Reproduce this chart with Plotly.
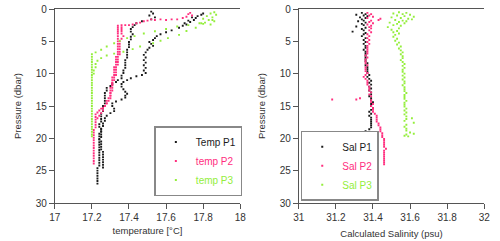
import plotly.graph_objects as go

# ---------------- data: (pressure dbar, value) ----------------
temp_p1_a = [(0.7,17.80),(0.9,17.79),(1.1,17.77),(1.4,17.76),(1.7,17.75),(2.0,17.73),(2.4,17.71),(2.9,17.67),
             (3.3,17.63),(3.6,17.60),(3.9,17.57),(4.2,17.55),(4.5,17.54),(4.8,17.53),(5.1,17.51),(5.4,17.52),
             (5.7,17.53),(6.0,17.51),(6.3,17.50),(6.7,17.49),(7.1,17.48),(7.5,17.49),(7.9,17.48),(8.3,17.49),
             (8.7,17.48),(9.1,17.49),(9.5,17.48),(9.9,17.49),(10.2,17.47),(10.4,17.44),(10.7,17.41),(11.0,17.39),
             (11.3,17.37),(11.6,17.36),(12.0,17.36),(12.4,17.37),(12.8,17.38),(13.1,17.39),(13.4,17.38),(13.7,17.38),
             (14.0,17.36),(14.3,17.33),(14.6,17.31),(15.0,17.31),(15.4,17.32),(15.8,17.32),(16.1,17.30),(16.5,17.28),
             (16.9,17.27),(17.3,17.27),(17.7,17.26),(18.1,17.26),(18.5,17.25),(18.9,17.25),(19.3,17.24),(19.7,17.24),
             (20.1,17.24),(20.5,17.25),(20.9,17.25),(21.3,17.25),(21.7,17.25),(22.1,17.26),(22.5,17.26),(22.9,17.26),
             (23.3,17.26),(23.7,17.26),(24.1,17.26),(24.5,17.26),(1.3,17.74),(1.8,17.72),(2.2,17.70),(2.6,17.69)]
temp_p1_b = [(0.4,17.52),(0.7,17.53),(1.0,17.51),(1.3,17.54),(1.6,17.52),(1.9,17.47),(2.2,17.44),(2.5,17.43),
             (2.8,17.42),(3.1,17.41),(3.5,17.41),(3.9,17.42),(4.3,17.41),(4.7,17.41),(5.1,17.40),(5.5,17.40),
             (5.9,17.40),(6.3,17.39),(6.7,17.39),(7.1,17.39),(7.5,17.39),(7.9,17.38),(8.3,17.38),(8.7,17.38),
             (9.1,17.38),(9.5,17.37),(9.9,17.37),(10.3,17.36),(10.7,17.36),(11.0,17.34),(11.3,17.33),(11.6,17.31),
             (11.9,17.30),(12.2,17.28),(12.6,17.28),(13.0,17.27),(13.4,17.27),(13.8,17.27),(14.2,17.27),(14.6,17.27),
             (15.0,17.26),(15.4,17.26),(15.8,17.26),(16.2,17.25),(16.6,17.25),(17.0,17.25),(17.4,17.25),(17.8,17.24),
             (18.2,17.24),(18.6,17.25),(19.0,17.25),(19.4,17.25),(19.8,17.25),(20.2,17.24),(20.6,17.24),(21.0,17.24),
             (21.4,17.24),(21.8,17.24),(22.2,17.24),(22.6,17.24),(23.0,17.24),(23.4,17.24),(23.8,17.24),(24.2,17.24),
             (24.6,17.23),(25.0,17.23),(25.4,17.23),(25.8,17.23),(26.2,17.23),(26.6,17.23),(27.0,17.23)]

temp_p2 = [(0.6,17.73),(0.8,17.72),(1.0,17.74),(1.2,17.71),(1.4,17.69),(1.6,17.66),(1.6,17.63),(1.7,17.60),
           (1.6,17.57),(1.7,17.54),(1.6,17.52),(1.8,17.50),(1.9,17.48),(2.1,17.46),(2.2,17.44),(2.4,17.42),
           (2.5,17.40),(2.5,17.38),(2.5,17.36),(2.6,17.34),(2.9,17.34),(3.2,17.34),(3.5,17.34),(3.8,17.34),
           (4.2,17.34),(4.6,17.34),(5.0,17.34),(5.4,17.34),(5.8,17.34),(6.2,17.34),(6.6,17.34),(7.0,17.34),
           (7.4,17.33),(7.8,17.33),(8.2,17.33),(8.6,17.33),(9.0,17.32),(9.4,17.32),(9.8,17.32),(10.2,17.32),
           (10.6,17.31),(11.0,17.31),(11.4,17.31),(11.8,17.31),(12.2,17.30),(12.6,17.30),(13.0,17.30),(13.4,17.30),
           (13.8,17.29),(14.2,17.28),(14.6,17.28),(15.0,17.27),(15.4,17.25),(15.7,17.24),(16.0,17.23),(16.3,17.22),
           (16.7,17.22),(17.1,17.22),(17.5,17.22),(17.9,17.22),(18.3,17.22),(18.7,17.21),(19.1,17.21),(19.5,17.21),
           (19.9,17.21),(20.3,17.21),(20.7,17.21),(21.1,17.21),(21.5,17.21),(21.9,17.21),(22.3,17.21),(22.7,17.21),
           (23.1,17.21),(23.5,17.21),(23.9,17.21),
           (2.8,17.36),(3.1,17.36),(3.4,17.36),(3.8,17.36),(4.2,17.37),(4.6,17.36),(5.0,17.35),(5.4,17.35),
           (5.8,17.35),(6.2,17.35),(6.6,17.35),(7.0,17.35),(7.4,17.34),(7.8,17.34),(8.2,17.34),(8.6,17.34),
           (9.0,17.33),(9.4,17.33),(9.8,17.33),(10.2,17.33),(10.6,17.32),(11.0,17.32),(11.4,17.31),(11.8,17.31),
           (12.2,17.31),(12.6,17.31),(13.0,17.30),(13.4,17.30),(13.8,17.30),(14.2,17.29),(14.6,17.28),(15.0,17.27),
           (15.3,17.26),(15.7,17.26),(16.1,17.25),(16.5,17.24),(16.9,17.23)]

temp_p3 = [(0.5,17.86),(0.7,17.84),(0.9,17.87),(1.1,17.82),(1.3,17.85),(1.5,17.80),(1.7,17.83),(1.9,17.86),
           (2.1,17.81),(2.2,17.79),(2.4,17.84),
           (2.2,17.78),(2.5,17.72),(2.7,17.66),(3.1,17.60),(3.45,17.54),(3.8,17.48),(4.2,17.43),(4.5,17.39),
           (4.9,17.35),(5.3,17.32),(5.8,17.28),(6.3,17.25),(6.7,17.22),(7.0,17.20),
           (1.7,17.85),(2.3,17.80),(2.9,17.76),(3.4,17.71),(4.0,17.67),(4.5,17.61),(4.9,17.57),(5.3,17.53),
           (5.8,17.46),(6.2,17.42),(6.6,17.37),(6.9,17.32),(7.2,17.28),(7.6,17.25),(8.0,17.23),(8.5,17.22),
           (9.0,17.22),(9.5,17.21),(10.0,17.21),
           (7.4,17.20),(7.8,17.20),(8.2,17.20),(8.6,17.20),(9.0,17.20),(9.4,17.20),(9.8,17.20),(10.2,17.20),
           (10.6,17.20),(11.0,17.20),(11.4,17.20),(11.8,17.20),(12.2,17.20),(12.6,17.20),(13.0,17.20),(13.4,17.20),
           (13.8,17.20),(14.2,17.20),(14.6,17.20),(15.0,17.20),(15.4,17.20),(15.8,17.20),(16.2,17.20),(16.6,17.20),
           (17.0,17.20),(17.4,17.20),(17.8,17.20),(18.2,17.20),(18.6,17.20),(19.0,17.20),(19.4,17.20),(19.7,17.20)]

sal_p1 = [(0.6,31.34),(0.8,31.36),(0.9,31.31),(1.0,31.35),(1.1,31.37),(1.3,31.33),(1.4,31.36),(1.6,31.34),
          (1.8,31.35),(1.9,31.32),(2.1,31.36),(2.3,31.34),(2.5,31.35),(2.7,31.31),(2.9,31.36),(3.1,31.34),
          (3.3,31.35),(3.5,31.29),(3.7,31.36),(3.9,31.35),(4.2,31.34),(4.5,31.36),(4.8,31.35),(5.1,31.36),
          (5.4,31.35),(5.7,31.36),(6.0,31.36),(6.3,31.35),(6.6,31.36),(6.9,31.36),(7.2,31.36),(7.5,31.36),
          (7.8,31.36),(8.1,31.36),(8.4,31.37),(8.7,31.36),(9.0,31.37),(9.3,31.37),(9.6,31.37),(9.9,31.37),
          (10.2,31.38),(10.5,31.37),(10.8,31.38),(11.1,31.39),(11.4,31.38),(11.7,31.39),(12.0,31.38),(12.3,31.39),
          (12.6,31.38),(12.9,31.39),(13.2,31.39),(13.5,31.38),(13.8,31.39),(14.1,31.39),(14.4,31.40),(14.7,31.39),
          (15.0,31.39),(15.3,31.40),(15.6,31.39),(15.9,31.38),(16.2,31.39),(16.5,31.38),(16.8,31.39),(17.1,31.39),
          (17.4,31.39),(17.7,31.39),(18.0,31.39),(18.3,31.39),(18.6,31.38),(18.9,31.36),(19.2,31.38),(19.5,31.39),
          (19.8,31.40),(20.1,31.39),(20.4,31.39),(20.7,31.40),(21.0,31.39),(21.3,31.40),(21.6,31.39),(21.9,31.40),
          (22.2,31.40),(22.5,31.40),(22.8,31.40),(23.1,31.40),(23.4,31.39),(23.7,31.40),(24.0,31.41),(24.3,31.40),
          (24.6,31.40),(24.9,31.40),(25.2,31.41),(25.5,31.41),(25.8,31.41),(26.1,31.41),(26.4,31.41),(26.7,31.41),
          (27.0,31.41)]

sal_p2 = [(0.6,31.37),(0.8,31.39),(1.0,31.38),(1.2,31.40),(1.4,31.37),(1.5,31.44),(1.7,31.43),(1.8,31.39),
          (2.0,31.38),(2.2,31.40),(2.4,31.37),(2.6,31.39),(2.8,31.38),(3.0,31.39),(3.3,31.38),(3.6,31.39),
          (3.9,31.37),(4.2,31.38),(4.5,31.37),(4.8,31.38),(5.1,31.37),(5.4,31.38),(5.7,31.37),(6.0,31.37),
          (6.3,31.37),(6.6,31.37),(6.9,31.37),(7.2,31.36),(7.5,31.37),(7.8,31.36),(8.1,31.36),(8.4,31.36),
          (8.7,31.37),(9.0,31.36),(9.3,31.36),(9.6,31.36),(9.9,31.37),(10.2,31.36),(10.5,31.35),(10.8,31.36),
          (11.1,31.37),(11.4,31.37),(11.7,31.37),(12.0,31.38),(12.3,31.38),(12.6,31.38),(12.9,31.39),(13.2,31.38),
          (13.5,31.39),(13.8,31.33),(14.0,31.18),(14.0,31.31),(14.1,31.39),(14.4,31.39),(14.7,31.40),(15.0,31.39),
          (15.3,31.40),(15.6,31.40),(15.9,31.40),(16.2,31.41),(16.5,31.42),(16.8,31.42),(17.1,31.42),(17.4,31.42),
          (17.7,31.43),(18.0,31.43),(18.3,31.44),(18.6,31.44),(18.9,31.44),(19.2,31.45),(19.5,31.45),(19.8,31.45),
          (20.1,31.46),(20.4,31.46),(20.7,31.46),(21.0,31.46),(21.3,31.46),(21.6,31.47),(21.9,31.46),(22.2,31.46),
          (22.5,31.46),(22.8,31.46),(23.1,31.46),(23.4,31.46),(23.7,31.46),(24.0,31.46)]

sal_p3 = [(0.5,31.54),(0.6,31.58),(0.7,31.51),(0.8,31.56),(0.9,31.60),(1.0,31.53),(1.1,31.57),(1.2,31.62),
          (1.3,31.50),(1.4,31.55),(1.5,31.59),(1.6,31.61),(1.7,31.52),(1.8,31.56),(1.9,31.58),(2.0,31.54),
          (2.1,31.49),(2.2,31.57),(2.3,31.53),(2.5,31.51),(2.6,31.55),(2.8,31.48),(3.0,31.54),(3.2,31.50),
          (3.4,31.53),(3.6,31.51),(3.8,31.54),(4.0,31.52),(4.3,31.51),(4.6,31.53),(4.9,31.52),(5.2,31.54),
          (5.5,31.53),(5.8,31.55),(6.1,31.54),(6.4,31.55),(6.7,31.56),(7.0,31.55),(7.3,31.56),(7.6,31.56),
          (7.9,31.55),(8.2,31.56),(8.5,31.57),(8.8,31.56),(9.1,31.57),(9.4,31.56),(9.7,31.56),(10.0,31.57),
          (10.3,31.56),(10.6,31.57),(10.9,31.56),(11.2,31.57),(11.5,31.57),(11.8,31.56),(12.1,31.57),(12.4,31.57),
          (12.7,31.57),(13.0,31.58),(13.3,31.57),(13.6,31.57),(13.9,31.57),(14.2,31.58),(14.5,31.57),(14.8,31.57),
          (15.1,31.57),(15.4,31.58),(15.7,31.57),(16.0,31.58),(16.3,31.57),(16.6,31.58),(16.9,31.61),(17.0,31.58),
          (17.3,31.57),(17.6,31.62),(17.9,31.58),(18.2,31.57),(18.5,31.58),(18.8,31.58),(19.1,31.60),(19.3,31.62),
          (19.4,31.58),(19.6,31.57),(19.7,31.59)]

x_tick_temp = [17, 17.2, 17.4, 17.6, 17.8, 18]
x_tick_sal = [31, 31.2, 31.4, 31.6, 31.8, 32]
y_ticks = [0, 5, 10, 15, 20, 25, 30]

BLACK = "#1a1a1a"
PINK = "#ff2e7e"
GREEN = "#94ee3c"
FONT = "Liberation Sans"


def split(pairs):
    return [v for _, v in pairs], [p for p, _ in pairs]


fig = go.Figure()

series = [
    (temp_p1_a + temp_p1_b, "Temp P1", BLACK, "x", "y", "legend"),
    (temp_p2, "temp P2", PINK, "x", "y", "legend"),
    (temp_p3, "temp P3", GREEN, "x", "y", "legend"),
    (sal_p1, "Sal P1", BLACK, "x2", "y2", "legend2"),
    (sal_p2, "Sal P2", PINK, "x2", "y2", "legend2"),
    (sal_p3, "Sal P3", GREEN, "x2", "y2", "legend2"),
]
for pairs, name, col, xa, ya, lg in series:
    xs, ys = split(pairs)
    fig.add_trace(go.Scatter(
        x=xs, y=ys, mode="markers", xaxis=xa, yaxis=ya, legend=lg,
        name=f"<span style='color:{col}'>{name}</span>",
        marker=dict(color=col, size=1.9, symbol="square", line=dict(width=0)),
        hoverinfo="skip"))

axis_common = dict(showgrid=False, zeroline=False, showline=True, linecolor="#555", linewidth=1,
                   ticks="outside", ticklen=5, tickwidth=1, tickcolor="#555",
                   tickfont=dict(family=FONT, size=10, color="#333"))

fig.update_layout(
    width=500, height=241,
    margin=dict(l=0, r=0, t=9, b=38),
    paper_bgcolor="white", plot_bgcolor="white",
    font=dict(family=FONT, size=10, color="#333"),
    xaxis=dict(domain=[0.1, 0.48], range=[17, 18], tickvals=x_tick_temp,
               ticktext=[f"{v:g}" for v in x_tick_temp], mirror=True, anchor="y",
               title=dict(text="temperature [°C]", font=dict(family=FONT, size=9.5, color="#333"), standoff=5),
               **axis_common),
    yaxis=dict(domain=[0, 1], range=[30, 0], tickvals=y_ticks, anchor="x",
               title=dict(text="Pressure (dbar)", font=dict(family=FONT, size=9.5, color="#333"), standoff=12),
               **axis_common),
    xaxis2=dict(domain=[0.6, 0.98], range=[31, 32], tickvals=x_tick_sal,
                ticktext=[f"{v:g}" for v in x_tick_sal], mirror=True, anchor="y2",
                title=dict(text="Calculated Salinity (psu)", font=dict(family=FONT, size=9.5, color="#333"), standoff=8),
                **axis_common),
    yaxis2=dict(domain=[0, 1], range=[30, 0], tickvals=y_ticks, anchor="x2",
                title=dict(text="Pressure (dbar)", font=dict(family=FONT, size=9.5, color="#333"), standoff=12),
                **axis_common),
    legend=dict(x=0.304, y=0.036, xanchor="left", yanchor="bottom", bgcolor="white",
                bordercolor="#888", borderwidth=1.5, font=dict(family=FONT, size=10),
                itemsizing="trace", tracegroupgap=0, itemwidth=30),
    legend2=dict(x=0.604, y=0.012, xanchor="left", yanchor="bottom", bgcolor="white",
                 bordercolor="#888", borderwidth=1.5, font=dict(family=FONT, size=10),
                 itemsizing="trace", tracegroupgap=0, itemwidth=30),
    showlegend=True,
)

fig.write_html("out.html")
